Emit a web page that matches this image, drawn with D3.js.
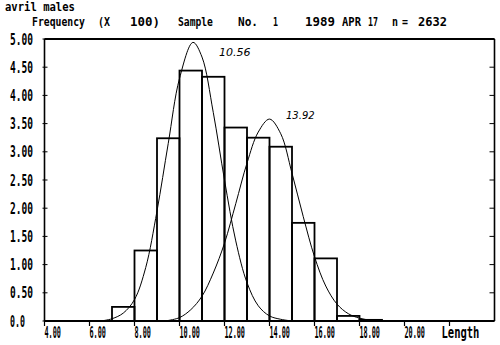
<!DOCTYPE html>
<html>
<head>
<meta charset="utf-8">
<script src="https://cdn.jsdelivr.net/npm/d3@7"></script>
<style>
body { margin: 0; background: #fff; }
svg text { font-family: "DejaVu Sans Mono", monospace; font-weight: bold; fill: #000; }
</style>
</head>
<body>
<div id="chart"></div>
<script>
var width = 500,
    height = 345;

// histogram bins (left edge of 1-unit bin) and frequency (x 100)
var binStarts = [7, 8, 9, 10, 11, 12, 13, 14, 15, 16, 17, 18];
var binFreq = [0.25, 1.25, 3.24, 4.44, 4.33, 3.43, 3.25, 3.09, 1.74, 1.11, 0.09, 0.02];

// fitted component curves
var comp1X = [6.5, 7, 7.5, 8, 8.5, 9, 9.5, 10, 10.6, 11, 11.5, 12, 12.5, 13, 13.5, 14, 14.5, 15];
var comp1Y = [0.0, 0.04, 0.14, 0.38, 0.95, 1.95, 3.15, 4.3, 4.94, 4.68, 3.7, 2.5, 1.42, 0.68, 0.27, 0.09, 0.03, 0.0];
var comp2X = [9.5, 10, 10.5, 11, 11.5, 12, 12.5, 13, 13.5, 14, 14.5, 15, 15.5, 16, 16.5, 17, 17.5, 18, 18.5, 19];
var comp2Y = [0.01, 0.06, 0.2, 0.44, 0.85, 1.38, 2.08, 2.8, 3.35, 3.58, 3.32, 2.62, 1.85, 1.14, 0.62, 0.3, 0.13, 0.05, 0.015, 0.0];
var compLabels = ["10.56", "13.92"];

var xTicks = [4, 6, 8, 10, 12, 14, 16, 18, 20, 22];
var xTickLabels = ["4.00", "6.00", "8.00", "10.00", "12.00", "14.00", "16.00", "18.00", "20.00", "Length"];
var yTicks = [0, 0.5, 1, 1.5, 2, 2.5, 3, 3.5, 4, 4.5, 5];
var yTickLabels = ["0.0", "0.50", "1.00", "1.50", "2.00", "2.50", "3.00", "3.50", "4.00", "4.50", "5.00"];

var svg = d3.select("#chart")
    .append("svg")
    .attr("width", width)
    .attr("height", height);

var xScale = d3.scaleLinear().domain([4, 24]).range([44.5, 494.5]);
var yScale = d3.scaleLinear().domain([0, 5]).range([321, 39]);

// squeeze a text horizontally so it spans w pixels (narrow plotter font)
function squeeze(sel, x, y, w) {
    sel.each(function(d, i) {
        var t = d3.select(this),
            nat = this.getComputedTextLength(),
            xx = typeof x == "function" ? x(d, i) : x,
            ww = typeof w == "function" ? w(d, i) : w;
        t.attr("transform", "translate(" + xx + "," + y + ") scale(" + (ww / nat) + ",1)");
    });
}

// header text
svg.append("text").attr("font-size", 12)
    .text("avril males")
    .call(squeeze, 5, 11, 70);

var header = [
    ["Frequency", 32, 53], ["(X", 98, 12], ["100)", 130, 30], ["Sample", 178, 35],
    ["No.", 238, 20], ["1", 273, 5], ["1989", 305, 30], ["APR", 342, 19],
    ["17", 368, 10], ["n", 392, 6], ["=", 402, 6], ["2632", 418, 29]
];
svg.selectAll("text.head")
    .data(header)
    .enter()
    .append("text")
    .attr("class", "head")
    .attr("font-size", 12)
    .text(function(d) { return d[0]; })
    .call(squeeze, function(d) { return d[1]; }, 26, function(d) { return d[2]; });

// frame
var x0 = xScale(4), x1 = xScale(24), y0 = yScale(0), y1 = yScale(5);
svg.append("line").attr("x1", x0).attr("x2", x1).attr("y1", y1).attr("y2", y1)
    .attr("stroke", "#000").attr("stroke-width", 2.2);
svg.append("line").attr("x1", x0).attr("x2", x1).attr("y1", y0).attr("y2", y0)
    .attr("stroke", "#000").attr("stroke-width", 2.2);
svg.append("line").attr("x1", x0).attr("x2", x0).attr("y1", y1).attr("y2", y0)
    .attr("stroke", "#000").attr("stroke-width", 1.6);
svg.append("line").attr("x1", x1).attr("x2", x1).attr("y1", y1).attr("y2", y0)
    .attr("stroke", "#000").attr("stroke-width", 1.6);

// y ticks (left crossing, right inside)
svg.selectAll("line.ytl")
    .data(yTicks)
    .enter()
    .append("line")
    .attr("x1", x0 - 2).attr("x2", x0 + 3)
    .attr("y1", function(d) { return yScale(d); })
    .attr("y2", function(d) { return yScale(d); })
    .attr("stroke", "#000").attr("stroke-width", 1);
svg.selectAll("line.ytr")
    .data(yTicks)
    .enter()
    .append("line")
    .attr("x1", x1 - 5).attr("x2", x1)
    .attr("y1", function(d) { return yScale(d); })
    .attr("y2", function(d) { return yScale(d); })
    .attr("stroke", "#000").attr("stroke-width", 1);
svg.selectAll("text.ylab")
    .data(yTicks)
    .enter()
    .append("text")
    .attr("font-size", 15)
    .text(function(d, i) { return yTickLabels[i]; })
    .each(function(d, i) {
        d3.select(this).call(squeeze, 10, yScale(d) + 5.5, yTickLabels[i].length == 3 ? 15 : 23);
    });

// x ticks
svg.selectAll("line.xt")
    .data(xTicks)
    .enter()
    .append("line")
    .attr("x1", function(d) { return xScale(d); })
    .attr("x2", function(d) { return xScale(d); })
    .attr("y1", y0).attr("y2", y0 + 5)
    .attr("stroke", "#000").attr("stroke-width", 1.2);
svg.selectAll("text.xlab")
    .data(xTicks)
    .enter()
    .append("text")
    .attr("font-size", 15)
    .text(function(d, i) { return xTickLabels[i]; })
    .call(squeeze,
        function(d, i) { return xScale(d) - (i == xTicks.length - 1 ? 8 : 0); },
        337.5,
        function(d, i) { return i == xTicks.length - 1 ? 38 : xTickLabels[i].length * 4.1; });

// histogram bars
svg.selectAll("rect.bar")
    .data(binStarts)
    .enter()
    .append("rect")
    .attr("x", function(d) { return xScale(d); })
    .attr("y", function(d, i) { return yScale(binFreq[i]); })
    .attr("width", function(d) { return xScale(d + 1) - xScale(d); })
    .attr("height", function(d, i) { return y0 - yScale(binFreq[i]); })
    .attr("fill", "none")
    .attr("stroke", "#000")
    .attr("stroke-width", 1.8);

// component curves
var line = d3.line()
    .x(function(d) { return xScale(d[0]); })
    .y(function(d) { return yScale(d[1]); })
    .curve(d3.curveCatmullRom);

svg.append("path")
    .attr("d", line(d3.zip(comp1X, comp1Y)))
    .attr("fill", "none").attr("stroke", "#000").attr("stroke-width", 1);
svg.append("path")
    .attr("d", line(d3.zip(comp2X, comp2Y)))
    .attr("fill", "none").attr("stroke", "#000").attr("stroke-width", 1);

// handwritten mean labels
svg.append("text").attr("x", 219).attr("y", 56)
    .style("font-family", "'DejaVu Sans'").style("font-weight", "normal").style("font-style", "italic")
    .attr("font-size", 11).text(compLabels[0]);
svg.append("text").attr("x", 286).attr("y", 119)
    .style("font-family", "'DejaVu Sans'").style("font-weight", "normal").style("font-style", "italic")
    .attr("font-size", 10).text(compLabels[1]);
</script>
</body>
</html>
